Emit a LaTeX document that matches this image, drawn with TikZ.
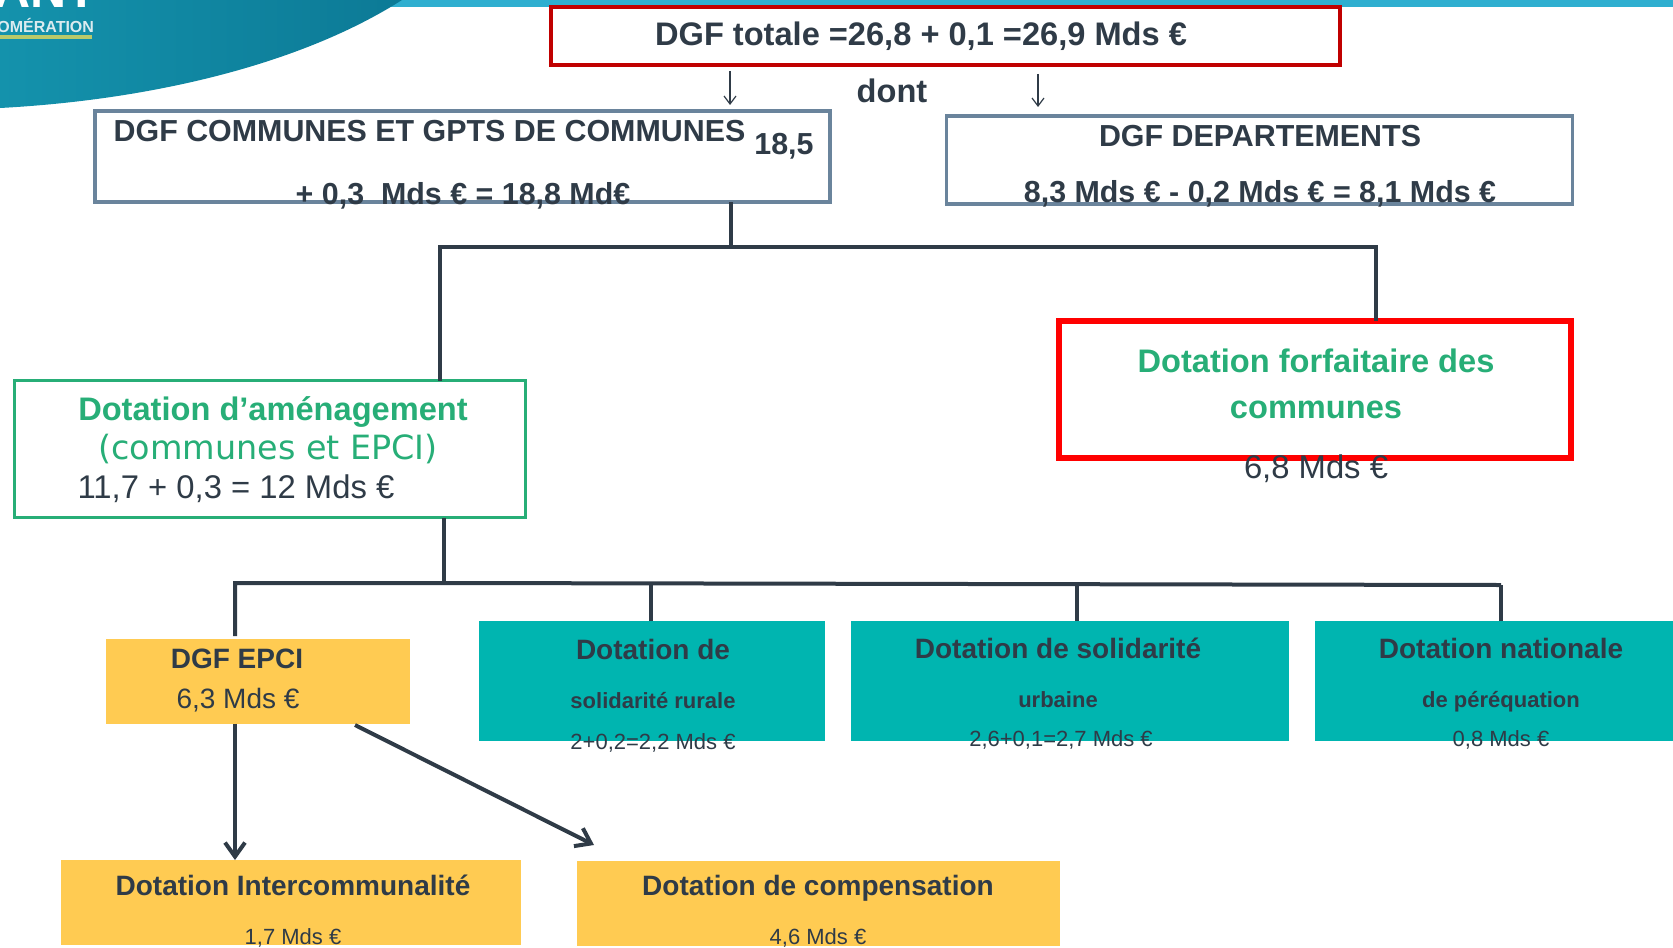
\documentclass[tikz,border=0pt]{standalone}
\usepackage{fontspec}
\setmainfont{Liberation Sans}
\newfontfamily\widefont{DejaVu Sans}
\usepackage{xcolor}
\usetikzlibrary{arrows.meta}
\usetikzlibrary{positioning}
\definecolor{inkdark}{HTML}{2F3B47}
\definecolor{slateline}{HTML}{6A849C}
\definecolor{greenline}{HTML}{27AE77}
\definecolor{darkred}{HTML}{C00000}
\definecolor{tealfill}{HTML}{00B5B0}
\definecolor{yellowfill}{HTML}{FFCB52}
\definecolor{bandblue}{HTML}{2FAFD0}
\definecolor{blobteal}{HTML}{0C7A96}
\definecolor{blobleft}{HTML}{1492AC}
\definecolor{logoline}{HTML}{B9C96A}
\def\px{0.5pt}
\tikzset{>=latex}
\tikzset{
  boxed/.style={draw, outer sep=0pt, inner sep=0pt},
  filled/.style={outer sep=0pt, inner sep=0pt},
  big/.style={text=inkdark, font=\fontsize{16.3}{18}\selectfont\bfseries},
  upper/.style={text=inkdark, font=\fontsize{15.2}{17}\selectfont\bfseries},
  mid/.style={text=inkdark, font=\fontsize{14}{17}\selectfont\bfseries},
  small/.style={text=inkdark, font=\fontsize{11}{12}\selectfont\bfseries},
  plain/.style={text=inkdark, font=\fontsize{14}{17}\selectfont},
  wide/.style={text=inkdark, font=\fontsize{16.4}{18}\selectfont},
  tiny/.style={text=inkdark, font=\fontsize{11}{12}\selectfont},
  title/.style={text=greenline, font=\fontsize{16.3}{18}\selectfont\bfseries},
  trunk/.style={draw=inkdark, line width=2pt},
  thin arrow/.style={draw=inkdark, line width=0.6pt, -{Straight Barb[length=4pt,width=6pt]}},
  thick arrow/.style={draw=inkdark, line width=2pt, -{Straight Barb[length=7pt,width=10pt]}}
}
\begin{document}
\begin{tikzpicture}[x=0.5pt, y=-0.5pt]
  \useasboundingbox (0,0) rectangle (1673,947);
  % header
  \fill[bandblue] (350,0) rectangle (1673,7);
  \shade[left color=blobleft, right color=blobteal] (0,0) -- (402,0) .. controls (300,65) and (150,100) .. (0,108) -- cycle;
  \node[anchor=base west, text=white, font=\fontsize{25}{25}\selectfont\bfseries, inner sep=0pt] (logo-name) at (-6,8) {ANT};
  \node[anchor=west, text=white!85!blobteal, font=\fontsize{8}{8}\selectfont\bfseries, inner sep=0pt] (logo-top) at (-3,25) {OMÉRATION};
  \fill[logoline] (0,35) rectangle (92,39);
  % boxes
  \node[boxed, draw=darkred, line width=2pt, minimum width=789*\px, minimum height=58*\px] (total) at (945.5,36) {};
  \node[boxed, draw=slateline, line width=1.75pt, minimum width=735*\px, minimum height=91*\px] (communes) at (462.5,156.5) {};
  \node[boxed, draw=slateline, line width=1.75pt, minimum width=626*\px, minimum height=88*\px] (departements) at (1259.5,160) {};
  \node[boxed, draw=greenline, line width=1.7pt, minimum width=511*\px, minimum height=137*\px] (amenagement) at (270,449) {};
  \node[boxed, draw=red, line width=3pt, minimum width=512*\px, minimum height=137*\px] (forfaitaire) at (1315,389) {};
  \node[filled, fill=yellowfill, minimum width=304*\px, minimum height=85*\px] (epci) at (257.5,681) {};
  \node[filled, fill=tealfill, minimum width=346*\px, minimum height=120*\px] (rurale) at (652,681) {};
  \node[filled, fill=tealfill, minimum width=438*\px, minimum height=120*\px] (urbaine) at (1069.5,681) {};
  \node[filled, fill=tealfill, minimum width=359*\px, minimum height=120*\px] (nationale) at (1494.5,681) {};
  \node[filled, fill=yellowfill, minimum width=460*\px, minimum height=85*\px] (interco) at (291,902.5) {};
  \node[filled, fill=yellowfill, minimum width=483*\px, minimum height=85*\px] (compensation) at (818.5,903) {};
  % texts
  \node[big] (total-text) at (921,36.5) {DGF totale =26,8 + 0,1 =26,9 Mds €};
  \node[big] (dont-text) at (892,91) {dont};
  \node[upper] (communes-head) at (429.5,131.5) {DGF COMMUNES ET GPTS DE COMMUNES};
  \node[upper] (communes-num) at (784,146) {18,5};
  \node[upper] (communes-sum) at (463,196) {+ 0,3~~Mds € = 18,8 Md€};
  \node[upper] (departements-head) at (1260,136) {DGF DEPARTEMENTS};
  \node[upper] (departements-sum) at (1260,194) {8,3 Mds € - 0,2 Mds € = 8,1 Mds €};
  \node[title] (amenagement-head) at (273,412) {Dotation d’aménagement};
  \node[title, font=\fontsize{16.7}{18}\selectfont\widefont] (amenagement-sub) at (268,449) {(communes et EPCI)};
  \node[wide] (amenagement-sum) at (236,489) {11,7 + 0,3 = 12 Mds €};
  \node[title] (forfaitaire-head) at (1316,361) {Dotation forfaitaire des};
  \node[title] (forfaitaire-tail) at (1316,410) {communes};
  \node[wide] (forfaitaire-sum) at (1316,469) {6,8 Mds €};
  \node[mid] (epci-head) at (237,659) {DGF EPCI};
  \node[plain] (epci-sum) at (238,700) {6,3 Mds €};
  \node[mid] (rurale-head) at (653,649) {Dotation de};
  \node[small] (rurale-tail) at (653,701) {solidarité rurale};
  \node[tiny] (rurale-sum) at (653,743) {2+0,2=2,2 Mds €};
  \node[mid] (urbaine-head) at (1058,648) {Dotation de solidarité};
  \node[small] (urbaine-tail) at (1058,700) {urbaine};
  \node[tiny] (urbaine-sum) at (1061,740) {2,6+0,1=2,7 Mds €};
  \node[mid] (nationale-head) at (1501,648) {Dotation nationale};
  \node[small] (nationale-tail) at (1501,702) {de péréquation};
  \node[tiny] (nationale-sum) at (1501,740) {0,8 Mds €};
  \node[mid] (interco-head) at (293,885) {Dotation Intercommunalité};
  \node[tiny] (interco-sum) at (293,938) {1,7 Mds €};
  \node[mid] (compensation-head) at (818,888) {Dotation de compensation};
  \node[tiny] (compensation-sum) at (818,938) {4,6 Mds €};
  % connectors
  \coordinate (top-bus) at (731,247);
  \coordinate (low-bus) at (444,583);
  \coordinate (low-end) at (1501,585);
  \draw[thin arrow, shorten <=3pt, shorten >=3pt] (total.south -| 730,0) -- (communes.north -| 730,0);
  \draw[thin arrow, shorten <=4.5pt, shorten >=4.5pt] (total.south -| 1038,0) -- (departements.north -| 1038,0);
  \draw[trunk] (communes.south -| top-bus) -- (top-bus);
  \draw[trunk] (amenagement.north -| 440,0) |- (top-bus) -| (forfaitaire.north -| 1376,0);
  \draw[trunk] (amenagement.south -| low-bus) -- (low-bus);
  \draw[trunk] (235,636) |- (low-bus) -- (low-end);
  \draw[trunk, line width=1.8pt] (rurale.north -| 651,0) -- (651,584);
  \draw[trunk, line width=1.8pt] (urbaine.north -| 1077,0) -- (1077,584);
  \draw[trunk, line width=1.8pt] (nationale.north -| low-end) -- (low-end);
  \draw[thick arrow] (epci.south -| 235,0) -- (interco.north -| 235,0);
  \draw[thick arrow] (355,725) -- (594,845);
\end{tikzpicture}
\end{document}
